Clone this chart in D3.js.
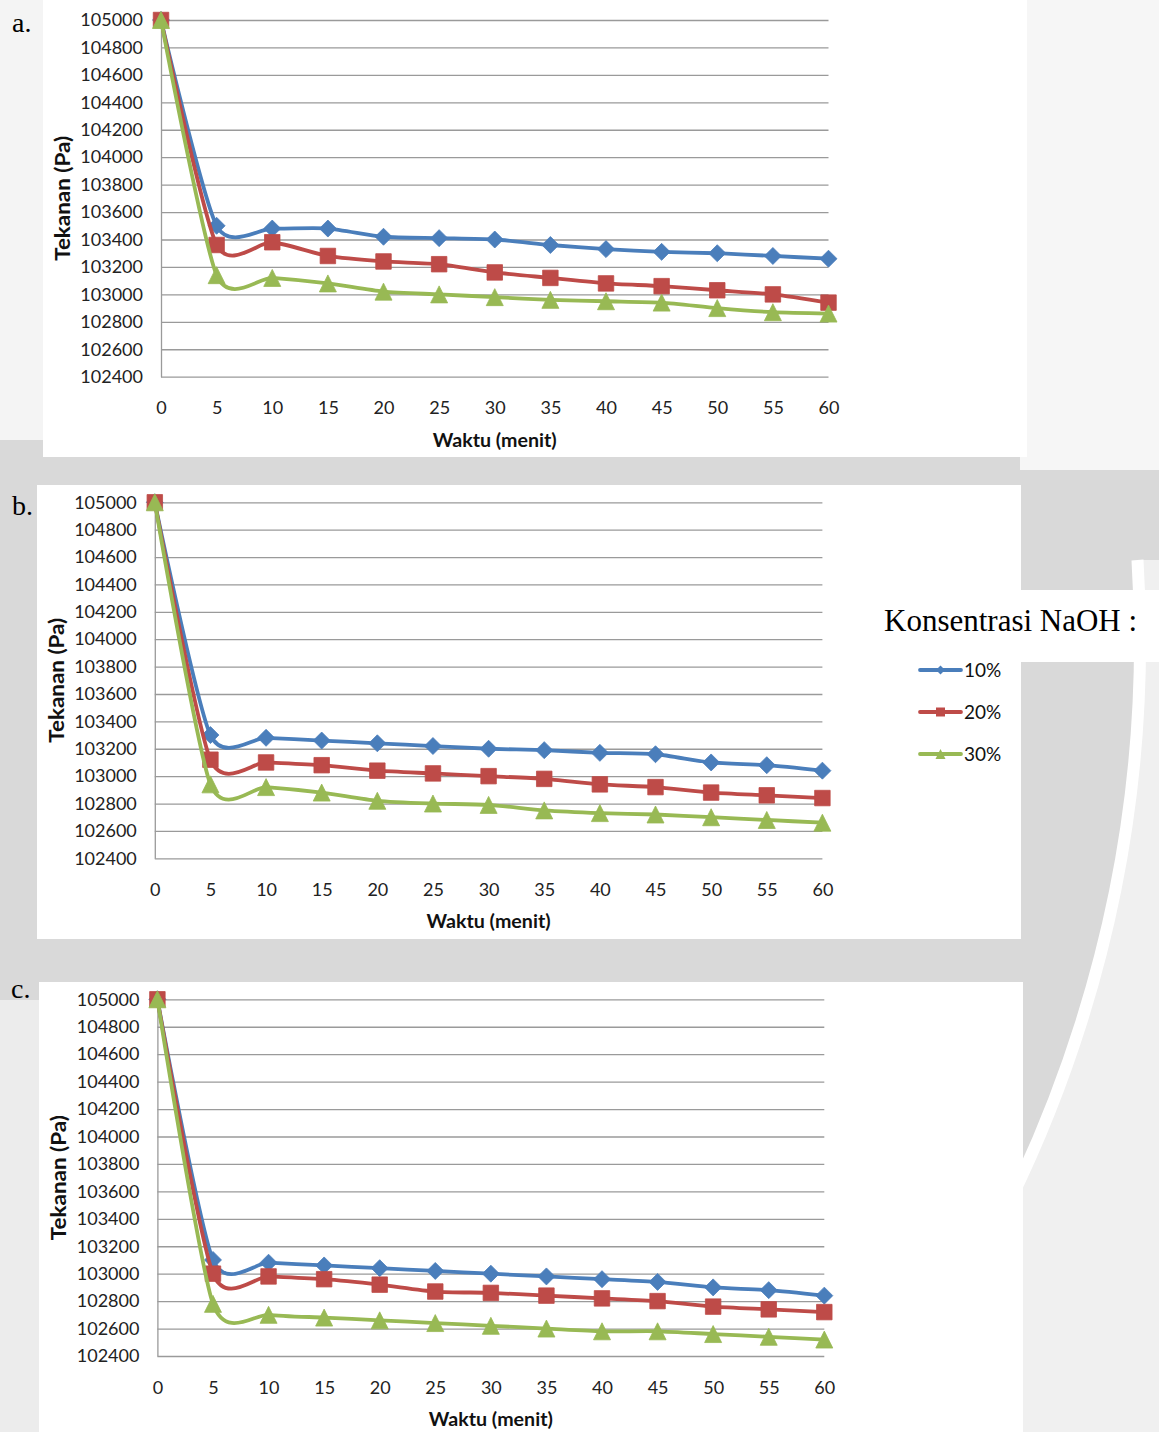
<!DOCTYPE html>
<html><head><meta charset="utf-8">
<script src="https://cdn.jsdelivr.net/npm/d3@7"></script>
<style>
body{margin:0;background:#d9d9d9;}
svg{display:block}
</style>
</head><body>
<svg id="chart" width="1159" height="1432"></svg>
<script>
// ---------------- DATA ----------------
const waktu = [0, 5, 10, 15, 20, 25, 30, 35, 40, 45, 50, 55, 60];
const yTicks = [102400, 102600, 102800, 103000, 103200, 103400, 103600, 103800, 104000, 104200, 104400, 104600, 104800, 105000];
const seriesNames = ["10%", "20%", "30%"];
const panelLabels = ["a.", "b.", "c."];
const xTitle = "Waktu (menit)";
const yTitle = "Tekanan (Pa)";
const legendTitle = "Konsentrasi NaOH :";

// panel a
const a10 = [105000, 103500, 103480, 103480, 103420, 103410, 103400, 103360, 103330, 103310, 103300, 103280, 103260];
const a20 = [105000, 103360, 103380, 103280, 103240, 103220, 103160, 103120, 103080, 103060, 103030, 103000, 102940];
const a30 = [105000, 103140, 103120, 103080, 103020, 103000, 102980, 102960, 102950, 102940, 102900, 102870, 102860];
// panel b
const b10 = [105000, 103300, 103280, 103260, 103240, 103220, 103200, 103190, 103170, 103160, 103100, 103080, 103040];
const b20 = [105000, 103120, 103100, 103080, 103040, 103020, 103000, 102980, 102940, 102920, 102880, 102860, 102840];
const b30 = [105000, 102940, 102920, 102880, 102820, 102800, 102790, 102750, 102730, 102720, 102700, 102680, 102660];
// panel c
const c10 = [105000, 103100, 103080, 103060, 103040, 103020, 103000, 102980, 102960, 102940, 102900, 102880, 102840];
const c20 = [105000, 103000, 102980, 102960, 102920, 102870, 102860, 102840, 102820, 102800, 102760, 102740, 102720];
const c30 = [105000, 102780, 102700, 102680, 102660, 102640, 102620, 102600, 102580, 102580, 102560, 102540, 102520];

// ---------------- STYLE / LAYOUT ----------------
const colors = ["#4A7EBB", "#BE4B48", "#98B954"];
const tickFont = "Lato, 'Open Sans', sans-serif";
const serif = "'Liberation Serif', 'Times New Roman', serif";

const panels = [
  {box: [43, 0, 1027, 457], left: 161, right: 828.5, top: 20, bottom: 376.7, label: [12, 32], series: [a10, a20, a30]},
  {box: [37, 485, 1021, 939], left: 154.8, right: 822.4, top: 502.3, bottom: 858.3, label: [12, 515], series: [b10, b20, b30]},
  {box: [39, 982, 1023, 1432], left: 157.4, right: 824.3, top: 999.3, bottom: 1356, label: [11, 998], series: [c10, c20, c30]}
];

const svg = d3.select("#chart");

// ---------------- BACKGROUND (watermark approximation) ----------------
const bg = svg.append("g");
bg.append("rect").attr("x", 0).attr("y", 0).attr("width", 1159).attr("height", 1432).attr("fill", "#d9d9d9");
const cx = -133, cy = 640, R = 1273;
const yStart = 560;
const xStart = cx + Math.sqrt(R * R - (yStart - cy) ** 2);
const a0 = Math.atan2(yStart - cy, xStart - cx);
const a1 = Math.atan2(1432 - cy, Math.sqrt(R * R - (1432 - cy) ** 2));
bg.append("path")
  .attr("d", () => {
    const p = d3.path();
    p.moveTo(1159, yStart);
    p.lineTo(xStart, yStart);
    p.arc(cx, cy, R, a0, a1, false);
    p.lineTo(1159, 1432);
    p.closePath();
    return p.toString();
  })
  .attr("fill", "#f0f0f0");
bg.append("path")
  .attr("d", () => {
    const p = d3.path();
    p.moveTo(xStart, yStart);
    p.arc(cx, cy, R, a0, a1, false);
    return p.toString();
  })
  .attr("fill", "none").attr("stroke", "#ffffff").attr("stroke-width", 12);
bg.append("rect").attr("x", 1020).attr("y", 0).attr("width", 139).attr("height", 470).attr("fill", "#f6f6f6");
bg.append("rect").attr("x", 0).attr("y", 0).attr("width", 45).attr("height", 440).attr("fill", "#f4f4f4");
bg.append("rect").attr("x", 0).attr("y", 1000).attr("width", 40).attr("height", 432).attr("fill", "#ececec");

// ---------------- MARKERS ----------------
function markerPath(i, s) {
  const h = s / 2;
  if (i === 0) return `M0,${-h}L${h},0L0,${h}L${-h},0Z`;
  if (i === 1) return `M${-h},${-h}L${h},${-h}L${h},${h}L${-h},${h}Z`;
  return `M0,${-h}L${h},${h}L${-h},${h}Z`;
}
const markerSize = [17, 15.5, 17];

// ---------------- PANELS ----------------
panels.forEach((P, pi) => {
  const g = svg.append("g");
  g.append("rect")
    .attr("x", P.box[0]).attr("y", P.box[1])
    .attr("width", P.box[2] - P.box[0]).attr("height", P.box[3] - P.box[1])
    .attr("fill", "#ffffff");

  const x = d3.scaleLinear().domain([0, 60]).range([P.left, P.right]);
  const y = d3.scaleLinear().domain([102400, 105000]).range([P.bottom, P.top]);

  const yAx = g.append("g").attr("transform", `translate(${P.left},0)`)
    .call(d3.axisLeft(y).tickValues(yTicks).tickFormat(d3.format("d"))
      .tickSizeInner(-(P.right - P.left)).tickSizeOuter(0).tickPadding(18));
  yAx.select(".domain").attr("stroke", "#9a9a9a").attr("stroke-width", 1.3);
  yAx.selectAll(".tick line").attr("stroke", "#9a9a9a").attr("stroke-width", 1.3);
  yAx.selectAll(".tick text").attr("fill", "#222").style("font-family", tickFont).style("font-size", "18px");

  const xAx = g.append("g").attr("transform", `translate(0,${P.bottom})`)
    .call(d3.axisBottom(x).tickValues(waktu).tickFormat(d3.format("d")).tickSize(0).tickPadding(25));
  xAx.select(".domain").remove();
  xAx.selectAll(".tick text").attr("fill", "#222").style("font-family", tickFont).style("font-size", "18px");

  g.append("text")
    .attr("x", (P.left + P.right) / 2).attr("y", P.bottom + 70)
    .attr("text-anchor", "middle")
    .attr("textLength", 124).attr("lengthAdjust", "spacingAndGlyphs")
    .style("font-family", tickFont).style("font-weight", "bold").style("font-size", "19.5px").attr("fill", "#111")
    .text(xTitle);
  g.append("text")
    .attr("transform", `translate(${P.left - 91},${(P.top + P.bottom) / 2}) rotate(-90)`)
    .attr("text-anchor", "middle")
    .attr("textLength", 125).attr("lengthAdjust", "spacingAndGlyphs")
    .style("font-family", tickFont).style("font-weight", "bold").style("font-size", "20px").attr("fill", "#111")
    .text(yTitle);

  svg.append("text")
    .attr("x", P.label[0]).attr("y", P.label[1])
    .style("font-family", serif).style("font-size", "28px").attr("fill", "#000")
    .text(panelLabels[pi]);

  const line = d3.line().x((d, i) => x(waktu[i])).y(d => y(d)).curve(d3.curveCardinal.tension(0.3));
  P.series.forEach((vals, si) => {
    const sg = g.append("g");
    sg.append("path").attr("d", line(vals)).attr("fill", "none")
      .attr("stroke", colors[si]).attr("stroke-width", 3.8).attr("stroke-linejoin", "round").attr("stroke-linecap", "round");
    sg.selectAll("path.m").data(vals).join("path").attr("class", "m")
      .attr("transform", (d, i) => `translate(${x(waktu[i])},${y(d)})`)
      .attr("d", markerPath(si, markerSize[si]))
      .attr("fill", colors[si]).attr("stroke", colors[si]).attr("stroke-width", 0.8);
  });
});

// ---------------- LEGEND ----------------
const lg = svg.append("g");
lg.append("rect").attr("x", 870).attr("y", 590).attr("width", 289).attr("height", 72).attr("fill", "#ffffff");
lg.append("text").attr("x", 884).attr("y", 631)
  .style("font-family", serif).style("font-size", "31px").attr("fill", "#000")
  .text(legendTitle);
const legendY = d3.scalePoint().domain(seriesNames).range([670, 754]);
const legendMarkerSize = [9, 9, 10];
seriesNames.forEach((name, si) => {
  const yy = legendY(name);
  lg.append("line").attr("x1", 920).attr("x2", 961).attr("y1", yy).attr("y2", yy)
    .attr("stroke", colors[si]).attr("stroke-width", 3.8).attr("stroke-linecap", "round");
  lg.append("path").attr("transform", `translate(940.5,${yy})`).attr("d", markerPath(si, legendMarkerSize[si]))
    .attr("fill", colors[si]);
  lg.append("text").attr("x", 964).attr("y", yy).attr("dy", "0.35em")
    .style("font-family", tickFont).style("font-size", "19px").attr("fill", "#111")
    .text(name);
});
</script>
</body></html>
